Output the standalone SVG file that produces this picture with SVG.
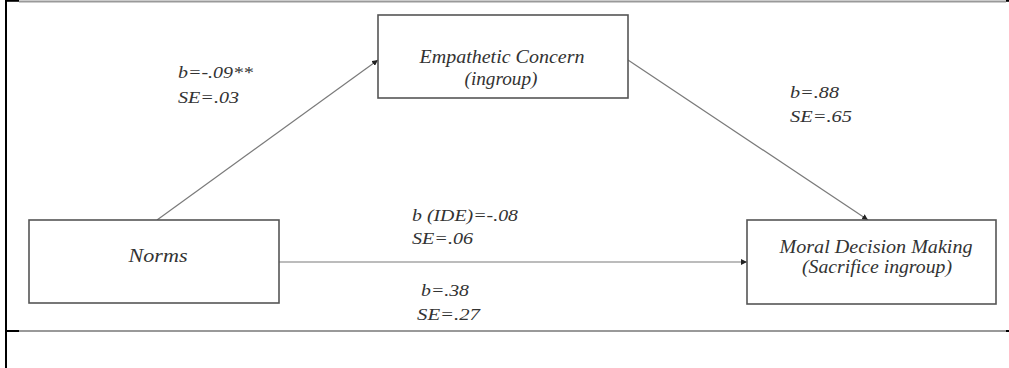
<svg xmlns="http://www.w3.org/2000/svg" width="1009" height="368" viewBox="0 0 1009 368">
<style>
.box{fill:#fff;stroke:#555;stroke-width:1.6}
.conn{stroke:#7a7a7a;stroke-width:1.2;fill:none}
.t{font-family:"Liberation Serif","Times New Roman",serif;font-style:italic;fill:#333}
.lbl{font-size:17.5px}
.nl{font-size:19.5px}
.frame{stroke:#999;stroke-width:1.8}
.fk{stroke:#000;stroke-width:2}
</style>
<defs>
<marker id="ah" viewBox="0 0 10 10" refX="10" refY="5" markerWidth="6" markerHeight="6" markerUnits="userSpaceOnUse" orient="auto">
<path d="M0,0 L10,5 L0,10 z" fill="#222"/>
</marker>
</defs>
<g id="frame">
<line class="frame" x1="19" y1="1.5" x2="1006" y2="1.5"/>
<line class="fk" x1="5" y1="0.8" x2="19" y2="0.8"/>
<line class="fk" x1="1006" y1="0.8" x2="1009" y2="0.8"/>
<line class="fk" x1="6" y1="0" x2="6" y2="368"/>
<line class="frame" x1="19" y1="331" x2="1006" y2="331"/>
<line class="fk" x1="7" y1="331" x2="19" y2="331"/>
<line class="fk" x1="1006" y1="331" x2="1009" y2="331"/>
</g>
<g id="connectors">
<line class="conn" x1="157" y1="220" x2="378" y2="60" marker-end="url(#ah)"/>
<line class="conn" x1="628" y1="60" x2="868" y2="220" marker-end="url(#ah)"/>
<line class="conn" x1="279" y1="262" x2="747" y2="262" marker-end="url(#ah)"/>
</g>
<g id="empathetic">
<rect class="box" x="378" y="15" width="250" height="83"/>
<text class="t nl" x="502" y="63" text-anchor="middle" textLength="165" lengthAdjust="spacingAndGlyphs">Empathetic Concern</text>
<text class="t nl" x="501" y="85" text-anchor="middle" textLength="73" lengthAdjust="spacingAndGlyphs">(ingroup)</text>
</g>
<g id="norms">
<rect class="box" x="29" y="220" width="250" height="83"/>
<text class="t nl" x="158" y="262" text-anchor="middle" textLength="59" lengthAdjust="spacingAndGlyphs">Norms</text>
</g>
<g id="moral">
<rect class="box" x="747" y="220" width="249" height="84"/>
<text class="t nl" x="876" y="253" text-anchor="middle" textLength="193" lengthAdjust="spacingAndGlyphs">Moral Decision Making</text>
<text class="t nl" x="877" y="273" text-anchor="middle" textLength="150" lengthAdjust="spacingAndGlyphs">(Sacrifice ingroup)</text>
</g>
<g id="labels">
<text class="t lbl" x="178" y="78" textLength="75" lengthAdjust="spacingAndGlyphs">b=-.09**</text>
<text class="t lbl" x="178" y="103" textLength="61" lengthAdjust="spacingAndGlyphs">SE=.03</text>
<text class="t lbl" x="790" y="98" textLength="49" lengthAdjust="spacingAndGlyphs">b=.88</text>
<text class="t lbl" x="790" y="122" textLength="62" lengthAdjust="spacingAndGlyphs">SE=.65</text>
<text class="t lbl" x="412" y="221" textLength="106" lengthAdjust="spacingAndGlyphs">b (IDE)=-.08</text>
<text class="t lbl" x="412" y="244" textLength="61" lengthAdjust="spacingAndGlyphs">SE=.06</text>
<text class="t lbl" x="421" y="296" textLength="48" lengthAdjust="spacingAndGlyphs">b=.38</text>
<text class="t lbl" x="417" y="320" textLength="63" lengthAdjust="spacingAndGlyphs">SE=.27</text>
</g>
</svg>
